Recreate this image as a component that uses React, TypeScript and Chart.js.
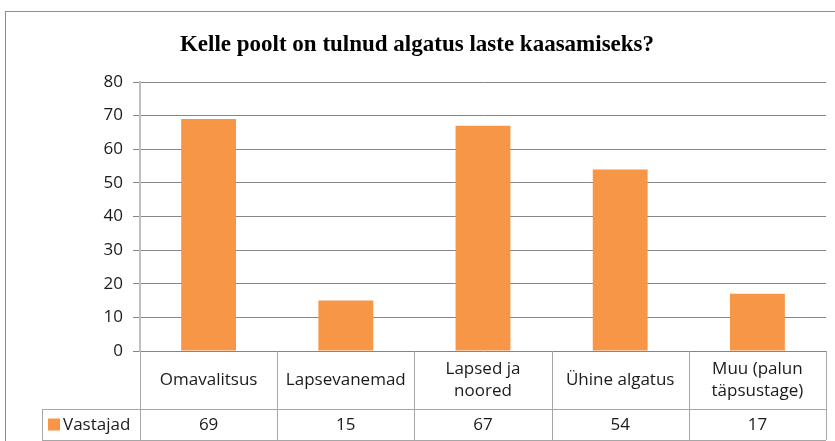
import React, { useEffect, useRef } from "react";
import { Chart, registerables } from "chart.js";

Chart.register(...registerables);

const TITLE = "Kelle poolt on tulnud algatus laste kaasamiseks?";
const categories: string[][] = [
  ["Omavalitsus"],
  ["Lapsevanemad"],
  ["Lapsed ja", "noored"],
  ["Ühine algatus"],
  ["Muu (palun", "täpsustage)"],
];
const seriesName = "Vastajad";
const values = [69, 15, 67, 54, 17];
const yTicks = [0, 10, 20, 30, 40, 50, 60, 70, 80];

const ORANGE = "#F79646";
const GRID = "#868686";
const TABLE = "#A6A6A6";
const FONT = "'Open Sans', 'Noto Sans', sans-serif";

const tablePlugin = {
  id: "tablePlugin",
  afterDraw(chart: any) {
    const ctx = chart.ctx as CanvasRenderingContext2D;
    const area = chart.chartArea;
    const xs = chart.scales.x;
    const n = values.length;
    const step = (area.right - area.left) / n;
    const row1Top = area.bottom;
    const row1Bot = area.bottom + 58;
    const row2Bot = row1Bot + 31;
    const legendLeft = 42;
    ctx.save();
    // outer border
    ctx.strokeStyle = "#8c8c8c";
    ctx.lineWidth = 1;
    ctx.strokeRect(5.5, 11.5, 900, 500);
    // title
    ctx.fillStyle = "#000";
    ctx.font = "bold 23px 'Liberation Serif', serif";
    ctx.textAlign = "center";
    ctx.textBaseline = "middle";
    ctx.fillText(TITLE, 417, 45);

    ctx.strokeStyle = TABLE;
    ctx.lineWidth = 1;
    ctx.beginPath();
    ctx.moveTo(legendLeft, Math.round(row1Bot) + 0.5);
    ctx.lineTo(area.right, Math.round(row1Bot) + 0.5);
    ctx.moveTo(legendLeft, Math.round(row2Bot) + 0.5);
    ctx.lineTo(area.right, Math.round(row2Bot) + 0.5);
    ctx.moveTo(legendLeft + 0.5, Math.round(row1Bot));
    ctx.lineTo(legendLeft + 0.5, Math.round(row2Bot));
    for (let i = 0; i <= n; i++) {
      const x = Math.round(area.left + step * i) + 0.5;
      ctx.moveTo(x, row1Top);
      ctx.lineTo(x, Math.round(row2Bot));
    }
    ctx.stroke();

    ctx.fillStyle = "#1a1a1a";
    ctx.font = `17px ${FONT}`;
    ctx.textAlign = "center";
    ctx.textBaseline = "middle";
    for (let i = 0; i < n; i++) {
      const cx = xs.getPixelForValue(i);
      const lines = categories[i];
      const mid = (row1Top + row1Bot) / 2;
      const lh = 22;
      lines.forEach((ln, j) => {
        const y = mid + (j - (lines.length - 1) / 2) * lh;
        ctx.fillText(ln, cx, y);
      });
      ctx.fillText(String(values[i]), cx, (row1Bot + row2Bot) / 2 + 1);
    }
    const ly = (row1Bot + row2Bot) / 2;
    ctx.fillStyle = ORANGE;
    ctx.fillRect(48, ly - 6, 12, 12);
    ctx.fillStyle = "#1a1a1a";
    ctx.textAlign = "left";
    ctx.fillText(seriesName, 63, ly + 1);
    ctx.restore();
  },
};

export default function App() {
  const ref = useRef<HTMLCanvasElement | null>(null);
  useEffect(() => {
    if (!ref.current) return;
    const chart = new Chart(ref.current, {
      type: "bar",
      data: {
        labels: categories.map((c) => c.join(" ")),
        datasets: [
          {
            label: seriesName,
            data: values,
            backgroundColor: ORANGE,
            borderWidth: 0,
            categoryPercentage: 0.8,
            barPercentage: 0.5,
          },
        ],
      },
      options: {
        animation: false,
        responsive: false,
        layout: { padding: { top: 82, bottom: 82, right: 9, left: 0 } },
        plugins: {
          legend: { display: false },
          title: { display: false },
          tooltip: { enabled: false },
        },
        scales: {
          x: {
            ticks: { display: false },
            grid: { display: false },
            border: { display: false },
          },
          y: {
            min: 0,
            max: 80,
            afterBuildTicks(scale: any) {
              scale.ticks = yTicks.map((v) => ({ value: v }));
            },
            afterFit(scale: any) {
              scale.width = 140;
            },
            ticks: {
              color: "#1a1a1a",
              font: { family: FONT, size: 17 },
              padding: 10,
            },
            grid: { color: GRID, tickLength: 7, drawTicks: true },
            border: { color: "#BFBFBF", width: 2 },
          },
        },
      },
      plugins: [tablePlugin],
    });
    return () => chart.destroy();
  }, []);
  return (
    <div style={{ position: "fixed", left: 0, top: 0, width: 835, height: 441, background: "#fff" }}>
      <canvas ref={ref} width={835} height={441} style={{ width: 835, height: 441 }} />
    </div>
  );
}
